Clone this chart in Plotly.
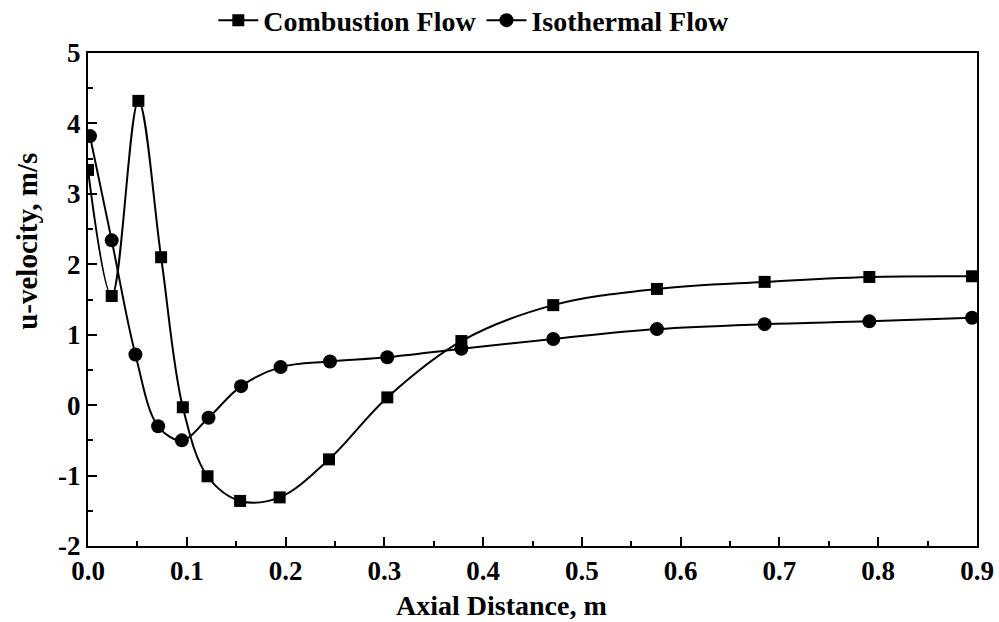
import plotly.graph_objects as go

comb_x = [0.0, 0.024, 0.051, 0.074, 0.096, 0.121, 0.154, 0.194, 0.244, 0.303, 0.378, 0.471, 0.576, 0.685, 0.791, 0.895]
comb_y = [3.34, 1.55, 4.32, 2.10, -0.03, -1.01, -1.36, -1.31, -0.77, 0.11, 0.91, 1.42, 1.65, 1.75, 1.82, 1.83]

iso_x = [0.002, 0.024, 0.048, 0.071, 0.095, 0.122, 0.155, 0.195, 0.245, 0.303, 0.378, 0.471, 0.576, 0.685, 0.791, 0.895]
iso_y = [3.82, 2.34, 0.72, -0.30, -0.50, -0.18, 0.27, 0.54, 0.62, 0.68, 0.80, 0.94, 1.08, 1.15, 1.19, 1.24]

x_ticks = [0.0, 0.1, 0.2, 0.3, 0.4, 0.5, 0.6, 0.7, 0.8, 0.9]
x_labels = ["0.0", "0.1", "0.2", "0.3", "0.4", "0.5", "0.6", "0.7", "0.8", "0.9"]
y_ticks = [-2, -1, 0, 1, 2, 3, 4, 5]
y_labels = ["-2", "-1", "0", "1", "2", "3", "4", "5"]

FONT = "'Liberation Serif', 'Times New Roman', Times, serif"

fig = go.Figure()
fig.add_trace(go.Scatter(
    x=comb_x, y=comb_y, name="<b>Combustion Flow</b>", mode="lines+markers",
    line=dict(color="black", width=2, shape="spline", smoothing=1.0),
    marker=dict(symbol="square", size=12, color="black"),
))
fig.add_trace(go.Scatter(
    x=iso_x, y=iso_y, name="<b>Isothermal Flow</b>", mode="lines+markers",
    line=dict(color="black", width=2, shape="spline", smoothing=1.0),
    marker=dict(symbol="circle", size=14, color="black"),
))

fig.update_layout(
    width=999, height=622,
    margin=dict(l=88, r=22, t=53, b=76, autoexpand=False),
    paper_bgcolor="white", plot_bgcolor="white",
    font=dict(family=FONT, color="black", size=26),
    showlegend=True,
    legend=dict(orientation="h", x=0.434, xanchor="center", y=1.066, yanchor="middle",
                font=dict(family=FONT, size=28, color="black"), itemwidth=40,
                bgcolor="rgba(0,0,0,0)"),
    xaxis=dict(
        range=[0, 0.9], tickvals=x_ticks, ticktext=["<b>%s</b>" % t for t in x_labels],
        ticks="inside", ticklen=9, tickwidth=1.5, tickcolor="black",
        minor=dict(ticks="inside", ticklen=5, dtick=0.05, tick0=0, tickcolor="black"),
        showline=True, linecolor="black", linewidth=2, mirror=True,
        showgrid=False, zeroline=False, automargin=False,
        tickfont=dict(family=FONT, size=27, color="black"),
    ),
    yaxis=dict(
        range=[-2, 5], tickvals=y_ticks, ticktext=["<b>%s</b>" % t for t in y_labels],
        ticks="inside", ticklen=9, tickwidth=1.5, tickcolor="black",
        minor=dict(ticks="inside", ticklen=5, dtick=0.5, tick0=0, tickcolor="black"),
        showline=True, linecolor="black", linewidth=2, mirror=True,
        showgrid=False, zeroline=False, automargin=False,
        tickfont=dict(family=FONT, size=27, color="black"),
    ),
    annotations=[
        dict(text="<b>Axial Distance, m</b>", xref="paper", yref="paper",
             x=0.4646, y=-0.12, xanchor="center", yanchor="middle", showarrow=False,
             font=dict(family=FONT, size=28, color="black")),
        dict(text="<b>u-velocity, m/s</b>", xref="paper", yref="paper",
             x=-0.0686, y=0.617, xanchor="center", yanchor="middle", showarrow=False,
             textangle=-90, font=dict(family=FONT, size=29, color="black")),
    ],
)

fig.write_html("out.html")
